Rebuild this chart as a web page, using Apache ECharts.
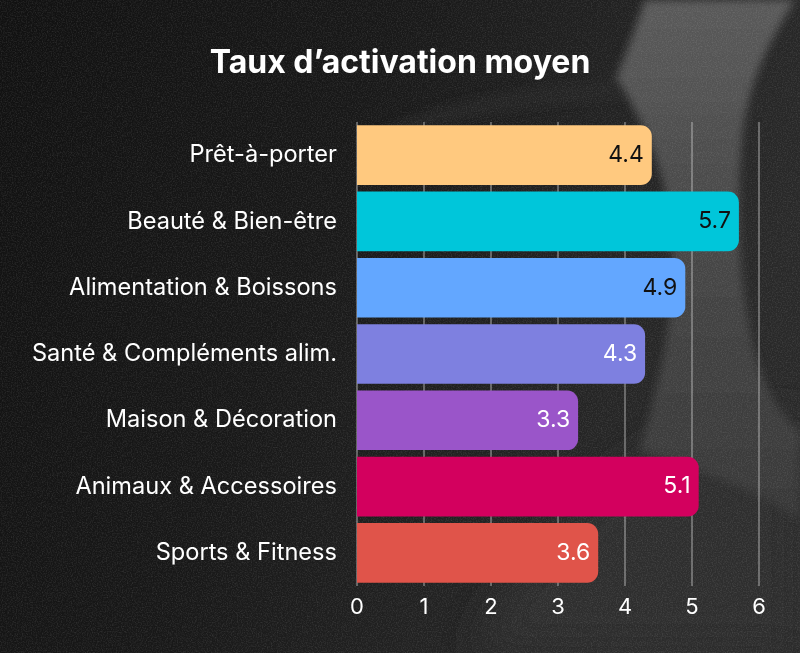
<!DOCTYPE html>
<html>
<head>
<meta charset="utf-8">
<script src="https://cdn.jsdelivr.net/npm/echarts@6/dist/echarts.min.js"></script>
<style>
html,body{margin:0;padding:0;width:800px;height:653px;overflow:hidden;background:#161616;}
#bg{position:absolute;left:0;top:0;width:800px;height:653px;}
#main{position:absolute;left:0;top:0;width:800px;height:653px;}
</style>
</head>
<body>
<svg id="bg" width="800" height="653" viewBox="0 0 800 653" xmlns="http://www.w3.org/2000/svg">
  <defs>
    <linearGradient id="base" x1="0" y1="0" x2="1" y2="0.3">
      <stop offset="0" stop-color="#111111"/>
      <stop offset="0.45" stop-color="#181818"/>
      <stop offset="0.75" stop-color="#222222"/>
      <stop offset="1" stop-color="#292929"/>
    </linearGradient>
    <linearGradient id="swoosh" x1="0" y1="0" x2="0" y2="1">
      <stop offset="0" stop-color="#5a5a5a"/>
      <stop offset="0.45" stop-color="#474747"/>
      <stop offset="1" stop-color="#383838"/>
    </linearGradient>
    <filter id="blur4"><feGaussianBlur stdDeviation="4"/></filter>
    <filter id="blur20"><feGaussianBlur stdDeviation="20"/></filter>
    <filter id="noise" x="0" y="0" width="100%" height="100%">
      <feTurbulence type="fractalNoise" baseFrequency="0.8" numOctaves="2" seed="3" result="n"/>
      <feColorMatrix type="matrix" values="0 0 0 0 1  0 0 0 0 1  0 0 0 0 1  1.6 0 0 0 -0.65"/>
    </filter>
  </defs>
  <rect width="800" height="653" fill="url(#base)"/>
  <!-- lower lighter band -->
  <path d="M 470 653 C 520 560 600 470 700 430 L 800 410 L 800 653 Z" fill="#2e2e2e" filter="url(#blur20)"/>
  <!-- grey swoosh top-right -->
  <path d="M 645 0 L 795 0 C 770 40 748 80 742 140 C 736 210 738 300 760 370 C 775 410 790 425 800 430 L 800 520 C 740 480 690 470 640 450 C 660 380 680 300 670 220 C 665 170 640 110 615 80 C 628 50 638 20 645 0 Z" fill="url(#swoosh)" filter="url(#blur4)"/>
  <!-- subtle arc near title -->
  <path d="M 380 130 C 440 100 520 85 615 80 L 625 100 C 530 105 450 120 390 140 Z" fill="#262626" opacity="0.7" filter="url(#blur4)"/>
  <rect width="800" height="653" filter="url(#noise)" opacity="0.14"/>
</svg>
<div id="main"></div>
<script>
const categories = ["Prêt-à-porter","Beauté & Bien-être","Alimentation & Boissons","Santé & Compléments alim.","Maison & Décoration","Animaux & Accessoires","Sports & Fitness"];
const values = [4.4, 5.7, 4.9, 4.3, 3.3, 5.1, 3.6];
const colors = ["#FFC97F","#00C6DA","#63A7FF","#7E80E0","#9A55C9","#D3005E","#E0544A"];
const labelColors = ["#111111","#111111","#111111","#FFFFFF","#FFFFFF","#FFFFFF","#FFFFFF"];
const xTicks = [0,1,2,3,4,5,6];

const chart = echarts.init(document.getElementById('main'), null, {renderer:'canvas'});
const font = 'Inter, "Noto Sans", sans-serif';
chart.setOption({
  backgroundColor: 'transparent',
  title: {
    text: 'Taux d\u2019activation moyen',
    left: 'center', top: 42,
    textStyle: {color:'#FFFFFF', fontSize: 32, fontWeight: 'bold', fontFamily: font}
  },
  grid: {left: 357, right: 41, top: 122, bottom: 67, containLabel: false},
  xAxis: {
    type: 'value', min: xTicks[0], max: xTicks[xTicks.length-1], interval: 1,
    axisLine: {show:false}, axisTick:{show:false},
    splitLine: {show:true, lineStyle:{color:'rgba(200,200,200,0.55)', width:1.5}},
    axisLabel: {color:'#FFFFFF', fontSize: 22, fontFamily: font, margin: 10}
  },
  yAxis: {
    type: 'category', data: categories, inverse: true,
    axisLine:{show:false}, axisTick:{show:false}, splitLine:{show:false},
    axisLabel: {color:'#FFFFFF', fontSize: 23.6, fontFamily: font, margin: 20}
  },
  series: [{
    type: 'bar',
    barCategoryGap: '10%',
    data: values.map((v,i)=>({value:v, itemStyle:{color:colors[i]}, label:{color:labelColors[i]}})),
    itemStyle: {borderRadius: [0,11,11,0]},
    label: {show:true, position:'insideRight', distance: 8, fontSize: 23, fontFamily: font,
      formatter: p => p.value.toFixed(1)}
  }]
});
</script>
</body>
</html>
